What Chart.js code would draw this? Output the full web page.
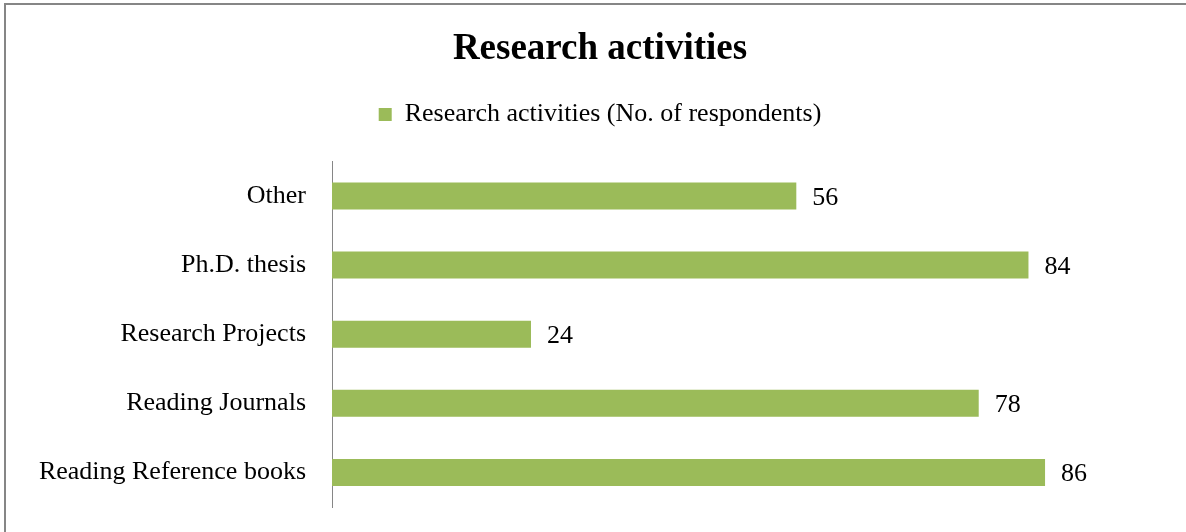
<!DOCTYPE html>
<html lang="en">

<head>
  <meta charset="UTF-8">
  <title>Research activities</title>
  <script src="https://cdn.jsdelivr.net/npm/chart.js"></script>
  <style>
    body {
      margin: 0;
      background: #fff;
      overflow: hidden;
    }

    .marco {
      position: absolute;
      left: 4px;
      top: 3px;
      width: 1180px;
      height: 527px;
      border-top: 2px solid #868686;
      border-left: 2px solid #868686;
    }
  </style>
</head>

<body>
  <div class="marco">
    <canvas id="grafico" width="1180" height="527"></canvas>
  </div>

  <script>
    const categorias = ["Other", "Ph.D. thesis", "Research Projects", "Reading Journals", "Reading Reference books"];
    const respuestas = [56, 84, 24, 78, 86];
    const serie = "Research activities (No. of respondents)";

    // etiquetas de valor al final de cada barra
    const etiquetasValor = {
      id: 'etiquetasValor',
      afterDatasetsDraw(chart) {
        const ctx = chart.ctx;
        ctx.save();
        ctx.font = '26px "Liberation Serif"';
        ctx.fillStyle = '#000';
        ctx.textBaseline = 'middle';
        chart.getDatasetMeta(0).data.forEach((bar, i) => {
          ctx.fillText(chart.data.datasets[0].data[i], bar.x + 16, bar.y + 2);
        });
        ctx.restore();
      }
    };

    new Chart(document.getElementById("grafico"), {
      type: 'bar',
      data: {
        labels: categorias,
        datasets: [{
          label: serie,
          data: respuestas,
          backgroundColor: '#9BBB59',
          categoryPercentage: 1,
          barPercentage: 0.39
        }]
      },
      options: {
        indexAxis: 'y',
        responsive: false,
        animation: false,
        layout: { padding: { left: 8, right: 0, top: 0, bottom: 25 } },
        plugins: {
          title: {
            display: true,
            text: 'Research activities',
            color: '#000',
            font: { family: 'Liberation Serif', size: 37, weight: 'bold' },
            padding: { top: 22, bottom: 0 }
          },
          legend: {
            labels: {
              color: '#000',
              font: { family: 'Liberation Serif', size: 26 },
              boxWidth: 13,
              boxHeight: 13,
              padding: 30
            }
          },
          tooltip: { enabled: false }
        },
        scales: {
          // eje superior invisible: solo deja el hueco bajo la leyenda
          x: {
            position: 'top',
            min: 0,
            max: 103,
            ticks: { display: false },
            grid: { display: false, drawTicks: false },
            border: { display: false },
            afterFit(scale) {
              scale.height = 24;
              scale.paddingLeft = 0;
              scale.paddingRight = 0;
            }
          },
          y: {
            grid: { display: false, drawTicks: false },
            border: { display: true, color: '#868686', width: 1 },
            ticks: {
              color: '#000',
              font: { family: 'Liberation Serif', size: 26 },
              padding: 26
            },
            afterFit(scale) {
              scale.width = 318;
              scale.paddingTop = 0;
              scale.paddingBottom = 0;
            }
          }
        }
      },
      plugins: [etiquetasValor]
    });
  </script>

</body>

</html>
